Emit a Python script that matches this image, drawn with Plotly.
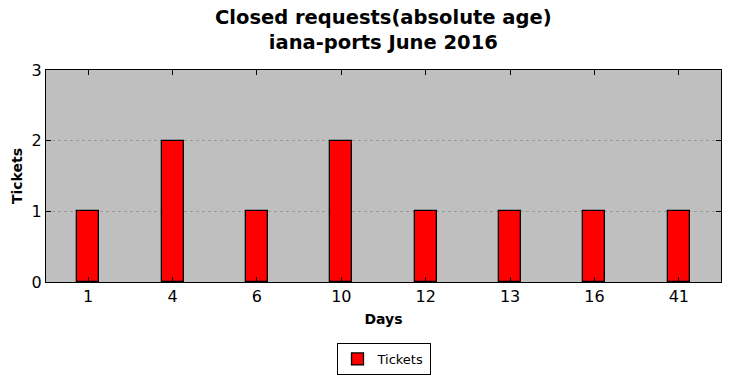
import plotly.graph_objects as go

days = ["1", "4", "6", "10", "12", "13", "16", "41"]
tickets = [1, 2, 1, 2, 1, 1, 1, 1]
y_ticks = [0, 1, 2, 3]

fig = go.Figure()
fig.add_trace(go.Bar(
    x=days, y=tickets, name="Tickets",
    width=0.26,
    marker=dict(color="#ff0000", line=dict(color="black", width=1.3)),
    showlegend=True,
))

plot_h = 378 - 70 - 96

fig.update_layout(
    width=730, height=378,
    margin=dict(l=46, r=9, t=70, b=96, autoexpand=False),
    paper_bgcolor="white",
    plot_bgcolor="#bfbfbf",
    font=dict(family="DejaVu Sans", color="black"),
    annotations=[dict(
        text="<b>Closed requests(absolute age)<br>iana-ports June 2016</b>",
        xref="paper", yref="paper", x=0.5, y=(282 - 30) / plot_h,
        xanchor="center", yanchor="middle", showarrow=False,
        font=dict(size=19.5, family="DejaVu Sans"),
    )],
    legend=dict(
        orientation="h", xref="paper", x=0.5, xanchor="center",
        yref="container", y=1 - 343 / 378, yanchor="top",
        bordercolor="black", borderwidth=1, bgcolor="white",
        font=dict(size=13, family="DejaVu Sans"),
    ),
    bargap=0,
)

fig.update_xaxes(
    type="category", range=[-0.5, 7.5],
    showline=True, linecolor="black", linewidth=1, mirror="ticks",
    ticks="inside", ticklen=5, tickcolor="black",
    tickfont=dict(size=16), automargin=False,
    showgrid=False,
    title=dict(text="<b>Days</b>", font=dict(size=14), standoff=8),
)
fig.update_yaxes(
    range=[0, 3], tickvals=y_ticks,
    showline=True, linecolor="black", linewidth=1, mirror="ticks",
    ticks="inside", ticklen=5, tickcolor="black",
    tickfont=dict(size=16), automargin=False,
    showgrid=True, gridcolor="#999999", griddash="dot", gridwidth=1,
    zeroline=False,
    title=dict(text="<b>Tickets</b>", font=dict(size=14), standoff=5),
)

fig.write_html("out.html", config={"displayModeBar": False},
               post_script="document.body.style.margin='0';")
